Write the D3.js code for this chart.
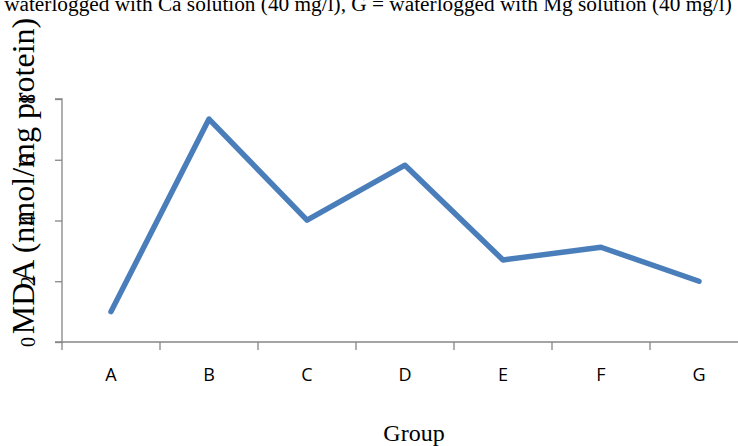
<!DOCTYPE html>
<html><head><meta charset="utf-8">
<script src="https://cdn.jsdelivr.net/npm/d3@7"></script>
<style>body{margin:0;background:#fff}svg{display:block}</style>
</head><body>
<svg id="c" width="738" height="446"></svg>
<script>
const categories = ["A","B","C","D","E","F","G"];
const mdaValues = [1.0, 7.34, 4.01, 5.82, 2.70, 3.12, 2.0];
const yTicks = [0, 2, 4, 6, 8];
const titleText = "waterlogged with Ca solution (40 mg/l), G = waterlogged with Mg solution (40 mg/l)";
const yLabel = "MDA (nmol/mg protein)";
const xLabel = "Group";

(function(){
const svg = d3.select("#c");
const mLeft = 62, mTop = 99, mBottom = 342, bandW = 98;
const x = d3.scaleBand().domain(categories).range([mLeft, mLeft + bandW*categories.length]);
const y = d3.scaleLinear().domain([0, 8]).range([mBottom, mTop]);
const axisColor = "#868686";

svg.append("text").attr("x", 368).attr("y", 11).attr("text-anchor","middle")
  .attr("font-family","Liberation Serif, serif").attr("font-size", 21.3).text(titleText);

// y axis
const ya = svg.append("g").attr("transform", `translate(${mLeft},0)`)
  .call(d3.axisLeft(y).tickValues(yTicks).tickSize(7).tickFormat(""));
ya.select(".domain").attr("stroke", axisColor).attr("stroke-width", 1.3).attr("d", `M-7,${mTop}H0V${mBottom}`);
ya.selectAll(".tick line").attr("stroke", axisColor).attr("stroke-width", 1.3);
svg.append("g").selectAll("text").data(yTicks).join("text")
  .attr("transform", d => `translate(35,${y(d)}) rotate(-90)`)
  .attr("text-anchor","middle")
  .attr("font-family","Liberation Serif, serif").attr("font-size", 20).text(d => d);

// x axis
svg.append("line").attr("x1", mLeft-7).attr("x2", 738).attr("y1", mBottom).attr("y2", mBottom)
  .attr("stroke", axisColor).attr("stroke-width", 1.3);
svg.append("g").selectAll("line").data(categories).join("line")
  .attr("x1", d => x(d)).attr("x2", d => x(d)).attr("y1", mBottom).attr("y2", mBottom+8)
  .attr("stroke", axisColor).attr("stroke-width", 1.3);
svg.append("g").selectAll("text").data(categories).join("text")
  .attr("x", d => x(d) + x.bandwidth()/2).attr("y", 381)
  .attr("text-anchor","middle")
  .attr("font-family","Open Sans, sans-serif").attr("font-size", 18).text(d => d);

svg.append("text").attr("x", 414).attr("y", 441).attr("text-anchor","middle")
  .attr("font-family","Liberation Serif, serif").attr("font-size", 24).text(xLabel);

svg.append("text").attr("transform", `translate(34,176) rotate(-90)`).attr("text-anchor","middle")
  .attr("font-family","Liberation Serif, serif").attr("font-size", 32).text(yLabel);

const line = d3.line().x((d,i) => x(categories[i]) + x.bandwidth()/2).y(d => y(d));
svg.append("path").datum(mdaValues).attr("d", line).attr("fill","none")
  .attr("stroke", "#4a7ebb").attr("stroke-width", 5.5)
  .attr("stroke-linecap","round").attr("stroke-linejoin","round");
})();
</script>
</body></html>
